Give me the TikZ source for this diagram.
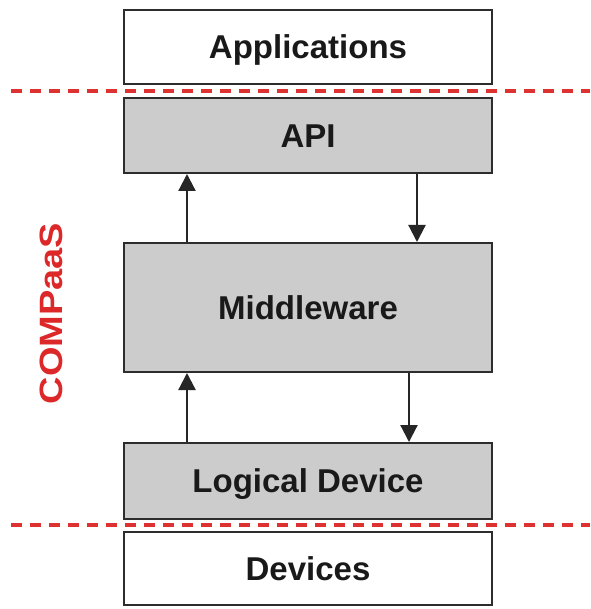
\documentclass[tikz,border=0pt]{standalone}
\usepackage{fontspec}
\setmainfont{Liberation Sans}
\usetikzlibrary{arrows.meta,calc}
\definecolor{boxgray}{RGB}{204,204,204}
\definecolor{linegray}{RGB}{45,45,45}
\definecolor{dashred}{RGB}{222,50,50}
\definecolor{txtred}{RGB}{220,40,40}
\tikzset{
  layer/.style={draw=linegray, line width=2pt, minimum width=368pt, inner sep=0pt,
    text height=23.6pt, text depth=0pt,
    font=\bfseries\fontsize{33}{36}\selectfont, text=black!90},
  graylayer/.style={layer, fill=boxgray},
  arr/.style={draw=black!85, line width=2.2pt, -{Triangle[width=17pt,length=17pt]}},
  sep/.style={draw=dashred, line width=3.5pt, dash pattern=on 11pt off 8pt}
}
\begin{document}
\begin{tikzpicture}[x=1pt,y=-1pt]
\useasboundingbox (0,0) rectangle (590,609);
\fill[white] (0,0) rectangle (590,609);
\node[layer, minimum height=74pt] (app) at (308,47) {Applications};
\node[graylayer, minimum height=75pt] (api) at (308,135.5) {API};
\node[graylayer, minimum height=129pt] (mw) at (308,307.5) {Middleware};
\node[graylayer, minimum height=76pt] (ld) at (308,481) {Logical Device};
\node[layer, minimum height=73pt] (dev) at (308,568.5) {Devices};
\coordinate (d1l) at (11,91);
\coordinate (d1r) at (590,91);
\coordinate (d2l) at (11,525);
\coordinate (d2r) at (590,525);
\draw[sep] (d1l) -- (d1r);
\draw[sep] (d2l) -- (d2r);
\draw[arr] ($(mw.north west)+(64,0)$) -- ($(api.south west)+(64,0)$);
\draw[arr] ($(api.south west)+(294,0)$) -- ($(mw.north west)+(294,0)$);
\draw[arr] ($(ld.north west)+(64,0)$) -- ($(mw.south west)+(64,0)$);
\draw[arr] ($(mw.south west)+(286,0)$) -- ($(ld.north west)+(286,0)$);
\node[rotate=90, text=txtred, font=\bfseries\fontsize{38}{40}\selectfont, inner sep=0pt] (compaas) at (51.5,313.5) {\scalebox{1}[0.85]{COMPaaS}};
\end{tikzpicture}
\end{document}
